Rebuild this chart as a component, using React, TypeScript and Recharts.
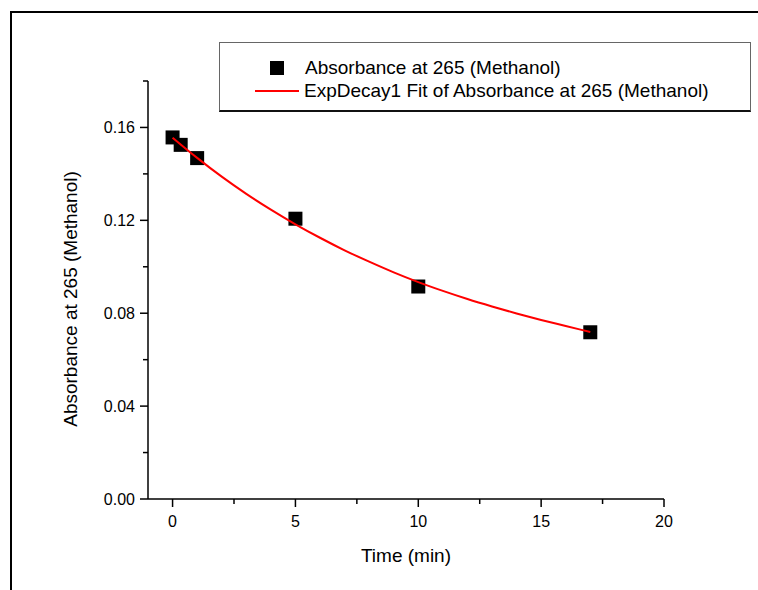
import { ComposedChart, Scatter, Line, XAxis, YAxis, Legend } from "recharts";

const FONT = "Arial, 'Liberation Sans', sans-serif";

// measured points (time in minutes, absorbance at 265 nm in methanol)
const timeMin = [0, 0.33, 1, 5, 10, 17];
const absorbance = [0.1557, 0.1525, 0.1468, 0.1207, 0.0915, 0.0718];

// ExpDecay1 fit curve
const fitTime = [0, 1, 2, 3, 4, 5, 6, 7, 8, 9, 10, 11, 12, 13, 14, 15, 16, 17];
const fitAbsorbance = [
  0.1556, 0.1469, 0.1388, 0.1314, 0.1246, 0.1183, 0.1125, 0.1071, 0.1022, 0.0976,
  0.0934, 0.0896, 0.0861, 0.0829, 0.0799, 0.0771, 0.0745, 0.0719,
];

const xTicks = [0, 2.5, 5, 7.5, 10, 12.5, 15, 17.5, 20];
const xMajor = [0, 5, 10, 15, 20];
const yTicks = [0, 0.02, 0.04, 0.06, 0.08, 0.1, 0.12, 0.14, 0.16, 0.18];
const yMajor = [0, 0.04, 0.08, 0.12, 0.16];

const seriesName = "Absorbance at 265 (Methanol)";
const fitName = "ExpDecay1 Fit of Absorbance at 265 (Methanol)";

const points = timeMin.map((x, i) => ({ x, y: absorbance[i] }));
const fit = fitTime.map((x, i) => ({ x, y: fitAbsorbance[i] }));

const XTick = (props: any) => {
  const { x, y, payload } = props;
  const major = xMajor.includes(payload.value);
  return (
    <g>
      <line x1={x} x2={x} y1={y} y2={y + (major ? 8 : 5)} stroke="#000" strokeWidth={1.5} />
      {major && (
        <text x={x} y={y + 28} textAnchor="middle" fontSize={16} fill="#000" fontFamily={FONT}>
          {payload.value}
        </text>
      )}
    </g>
  );
};

const YTick = (props: any) => {
  const { x, y, payload } = props;
  const major = yMajor.includes(payload.value);
  return (
    <g>
      <line x1={x} x2={x - (major ? 8 : 5)} y1={y} y2={y} stroke="#000" strokeWidth={1.5} />
      {major && (
        <text x={x - 13} y={y + 6} textAnchor="end" fontSize={16} fill="#000" fontFamily={FONT}>
          {payload.value.toFixed(2)}
        </text>
      )}
    </g>
  );
};

// rotated y title, nudged a little below the axis centre like the original
const YTitle = (props: any) => {
  const vb = props.viewBox || {};
  const cx = vb.x + vb.width / 2;
  const cy = vb.y + vb.height / 2 + 9;
  return (
    <text
      x={cx}
      y={cy}
      transform={`rotate(-90, ${cx}, ${cy})`}
      textAnchor="middle"
      dominantBaseline="central"
      fontSize={19}
      fill="#000"
      fontFamily={FONT}
    >
      {seriesName}
    </text>
  );
};

const SquareDot = (props: any) => {
  const { cx, cy } = props;
  return <rect x={cx - 7} y={cy - 7} width={14} height={14} fill="#000" />;
};

const LegendBox = () => (
  <div
    style={{
      position: "relative",
      width: 532,
      height: 70,
      boxSizing: "border-box",
      border: "1px solid #666",
      borderBottom: "2px solid #111",
      background: "#fff",
      fontFamily: FONT,
      fontSize: 19,
      color: "#000",
    }}
  >
    <div style={{ position: "absolute", left: 50, top: 18, width: 14, height: 14, background: "#000" }} />
    <div style={{ position: "absolute", left: 85, top: 14, lineHeight: "22px", whiteSpace: "nowrap" }}>
      {seriesName}
    </div>
    <div style={{ position: "absolute", left: 35, top: 47, width: 44, height: 2, background: "#ff0000" }} />
    <div style={{ position: "absolute", left: 84, top: 37, lineHeight: "22px", whiteSpace: "nowrap" }}>
      {fitName}
    </div>
  </div>
);

export default function App() {
  return (
    <div style={{ position: "relative", width: 758, height: 590, overflow: "hidden", background: "#fff" }}>
      <style>{`body { margin: 0; }`}</style>
      <div
        style={{
          position: "absolute",
          left: 10,
          top: 11,
          width: 1000,
          height: 1000,
          borderTop: "2px solid #000",
          borderLeft: "2px solid #000",
        }}
      />
      <ComposedChart
        width={758}
        height={590}
        margin={{ top: 81, right: 94, bottom: 0, left: -8 }}
        style={{ position: "absolute", left: 0, top: 0 }}
      >
        <XAxis
          dataKey="x"
          type="number"
          domain={[-1, 20]}
          ticks={xTicks}
          interval={0}
          allowDataOverflow
          height={91}
          tickSize={0}
          tickMargin={0}
          tickLine={false}
          tick={<XTick />}
          axisLine={{ stroke: "#000", strokeWidth: 1.5 }}
          label={{ value: "Time (min)", position: "insideBottom", offset: 28, fontSize: 19, fill: "#000", fontFamily: FONT }}
        />
        <YAxis
          type="number"
          domain={[0, 0.18]}
          ticks={yTicks}
          interval={0}
          allowDataOverflow
          width={156}
          tickSize={0}
          tickMargin={0}
          tickLine={false}
          tick={<YTick />}
          axisLine={{ stroke: "#000", strokeWidth: 1.5 }}
          label={{ value: seriesName, position: "center", content: (p: any) => <YTitle {...p} /> }}
        />
        <Legend
          layout="horizontal"
          verticalAlign="middle"
          align="center"
          wrapperStyle={{ left: 219, top: 42, width: 532, height: 70 }}
          content={() => <LegendBox />}
        />
        <Scatter name={seriesName} data={points} dataKey="y" shape={<SquareDot />} isAnimationActive={false} />
        <Line
          name={fitName}
          data={fit}
          dataKey="y"
          type="monotone"
          stroke="#ff0000"
          strokeWidth={2}
          dot={false}
          activeDot={false}
          isAnimationActive={false}
          zIndex={1000}
        />
      </ComposedChart>
    </div>
  );
}
